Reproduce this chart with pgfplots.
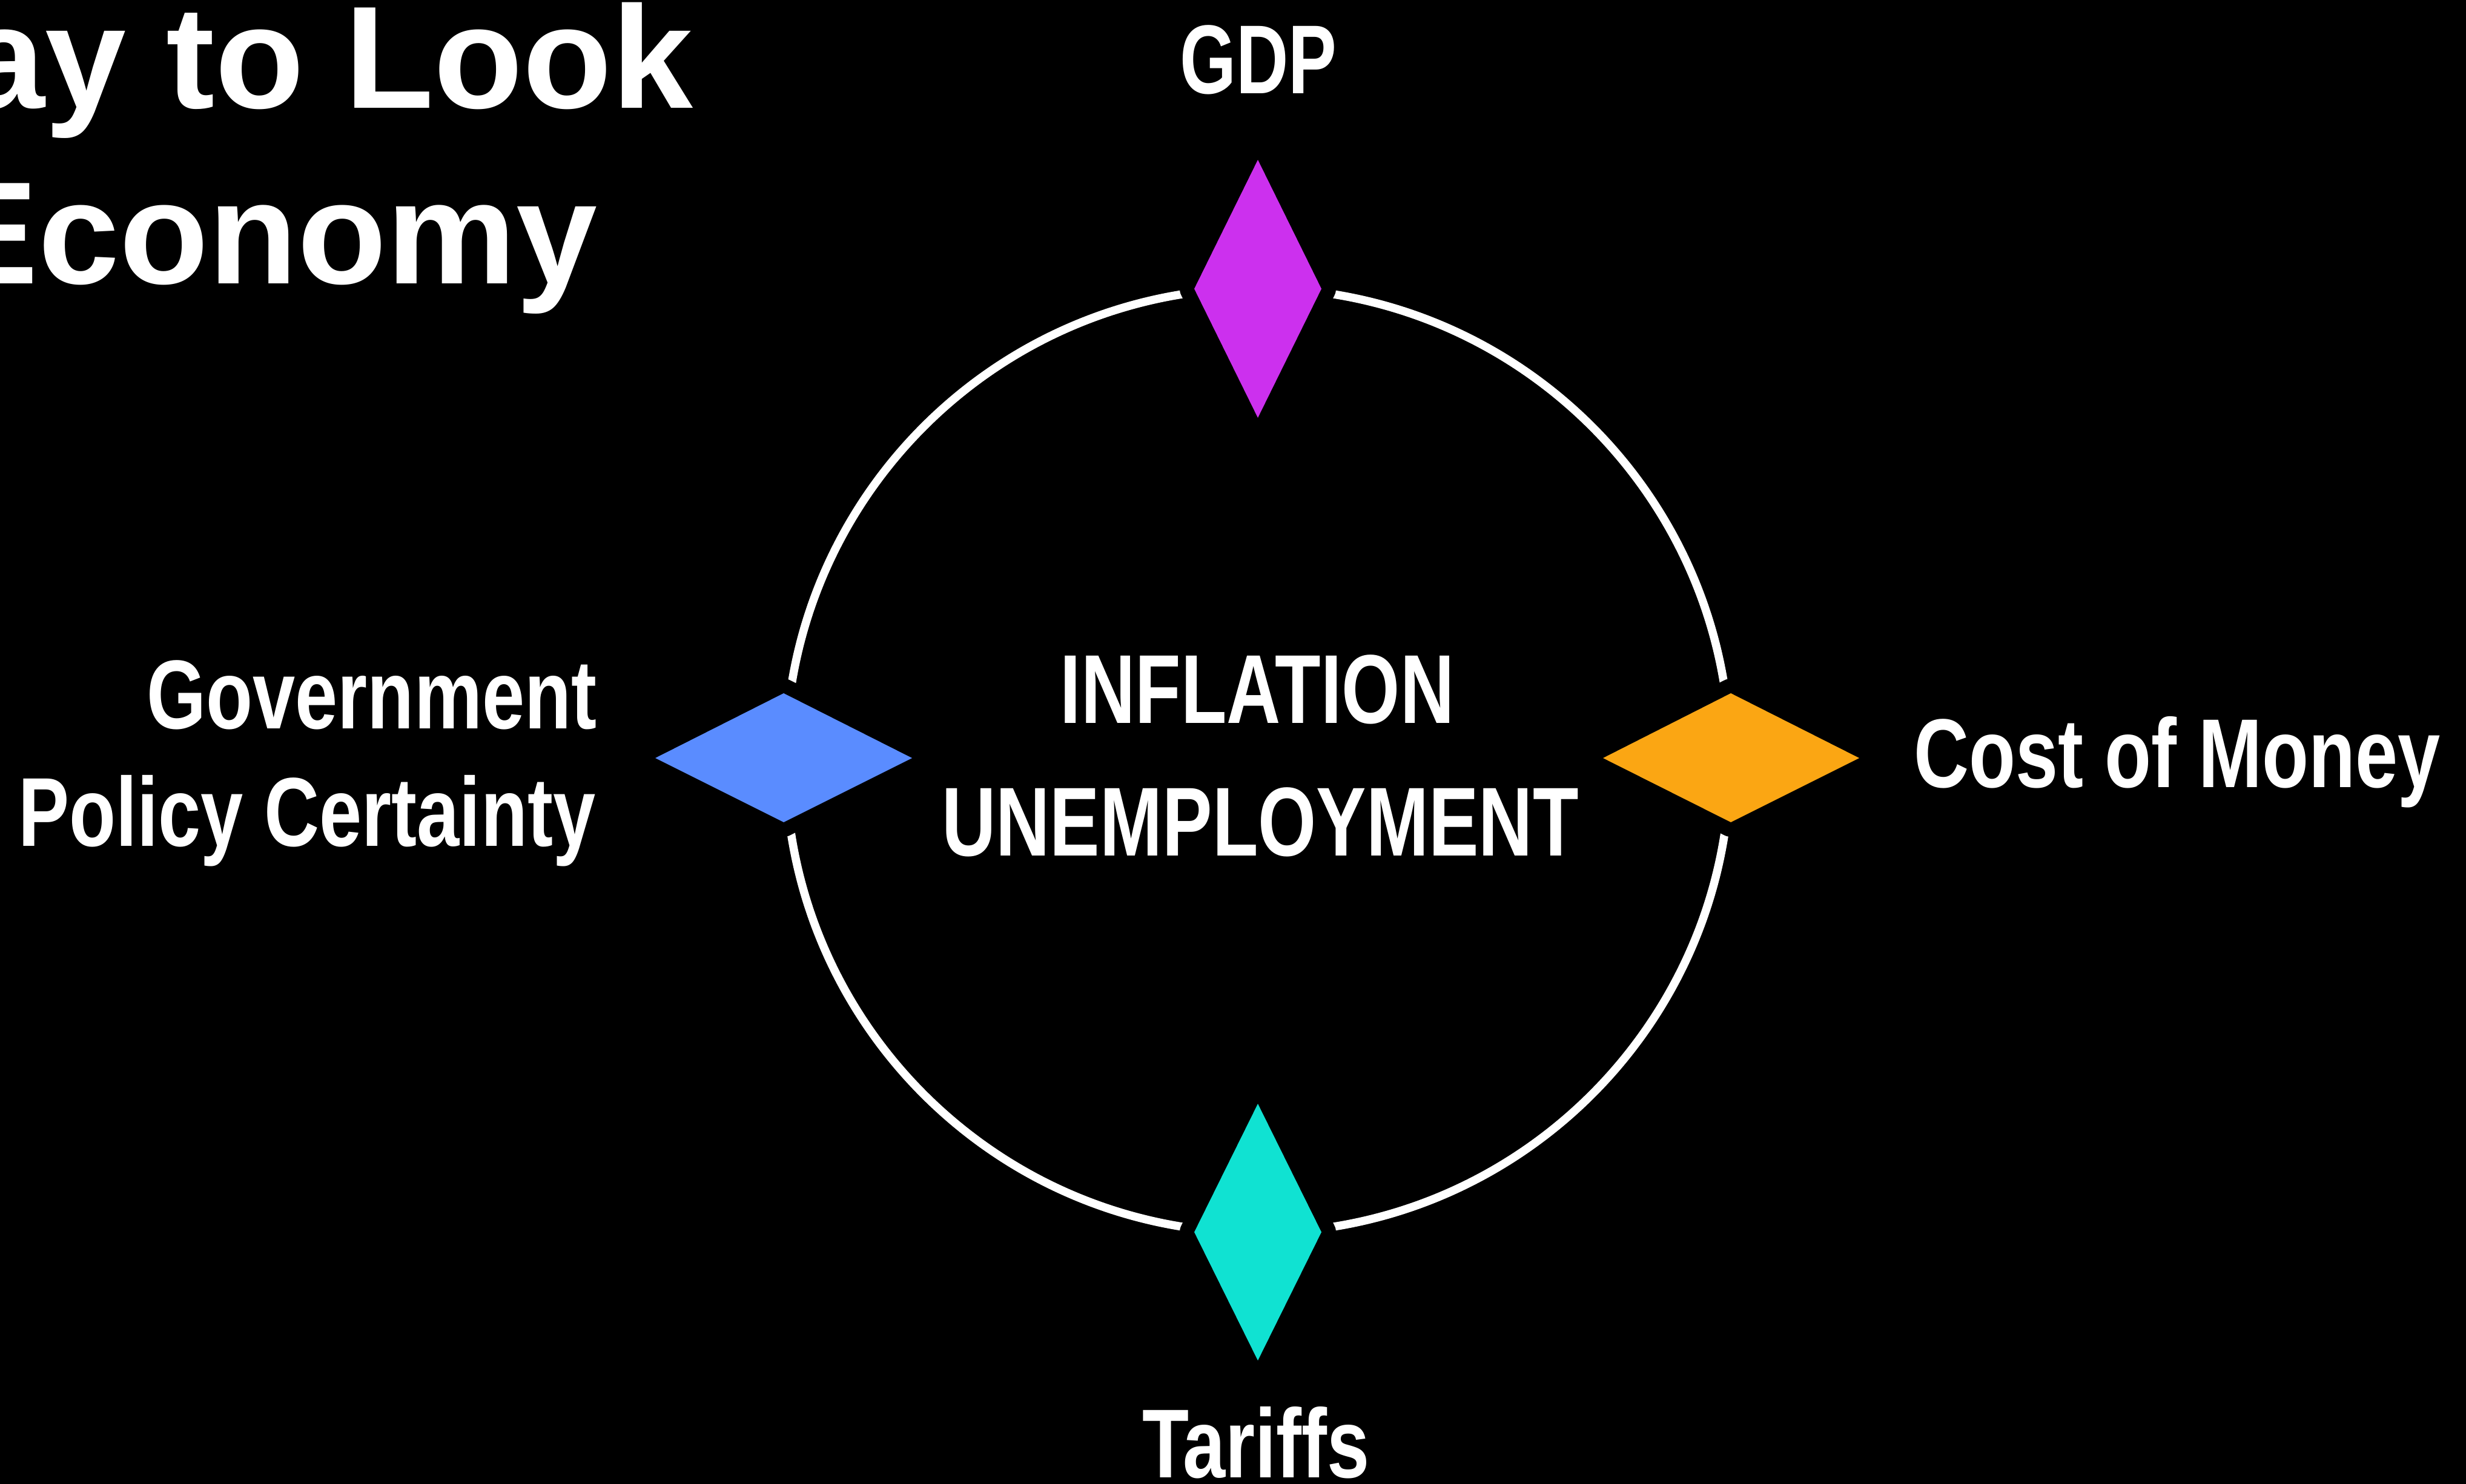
\documentclass[border=0pt]{standalone}
\usepackage{pgfplots}
\pgfplotsset{compat=1.18}
\usepackage{fontspec}
\setmainfont{Liberation Sans}
\newfontfamily\condfont[FakeStretch=0.78]{Liberation Sans}
\newfontfamily\capfont[FakeStretch=0.765]{Liberation Sans}
\newfontfamily\gdpfont[FakeStretch=0.74]{Liberation Sans}
\definecolor{cPurple}{RGB}{204,48,238}
\definecolor{cBlue}{RGB}{90,140,255}
\definecolor{cOrange}{RGB}{251,166,19}
\definecolor{cCyan}{RGB}{16,226,210}
\begin{document}
\begin{tikzpicture}
\begin{axis}[at={(0,0)},anchor=south west,
  width=40.72cm,height=24.51cm,scale only axis,
  xmin=0,xmax=4072,ymin=0,ymax=2451,y dir=reverse,
  hide axis,clip=false]
% background
\addplot[fill=black,draw=none] coordinates {(0,0) (4072,0) (4072,2451) (0,2451) (0,0)};
% ring
\draw[white,line width=0.135cm] (axis cs:2077,1256) circle[radius=7.8cm];
% top diamond (GDP)
\addplot[fill=black,draw=black,line width=0.48cm,line join=round] coordinates {(2077,264) (2182,477) (2077,690) (1972,477) (2077,264)};
\addplot[fill=cPurple,draw=none] coordinates {(2077,264) (2182,477) (2077,690) (1972,477) (2077,264)};
% left diamond (Government Policy Certainty)
\addplot[fill=black,draw=black,line width=0.48cm,line join=round] coordinates {(1082,1252) (1294,1145) (1506,1252) (1294,1358) (1082,1252)};
\addplot[fill=cBlue,draw=none] coordinates {(1082,1252) (1294,1145) (1506,1252) (1294,1358) (1082,1252)};
% right diamond (Cost of Money)
\addplot[fill=black,draw=black,line width=0.48cm,line join=round] coordinates {(2647,1252) (2858,1145) (3070,1252) (2858,1358) (2647,1252)};
\addplot[fill=cOrange,draw=none] coordinates {(2647,1252) (2858,1145) (3070,1252) (2858,1358) (2647,1252)};
% bottom diamond (Tariffs)
\addplot[fill=black,draw=black,line width=0.48cm,line join=round] coordinates {(2077,1823) (2182,2035) (2077,2247) (1972,2035) (2077,1823)};
\addplot[fill=cCyan,draw=none] coordinates {(2077,1823) (2182,2035) (2077,2247) (1972,2035) (2077,1823)};
% labels
\tikzset{lbl/.style={text=white,inner sep=0pt,font=\condfont\bfseries\fontsize{46}{50}\selectfont},
         capl/.style={text=white,inner sep=0pt,font=\capfont\bfseries\fontsize{46}{50}\selectfont},
         gdpl/.style={text=white,inner sep=0pt,font=\gdpfont\bfseries\fontsize{46}{50}\selectfont}}
\node[gdpl,anchor=base] at (axis cs:2078,155) {GDP};
\node[lbl,anchor=base east] at (axis cs:986,1203) {Government};
\node[lbl,anchor=base east] at (axis cs:984,1397) {Policy Certainty};
\node[lbl,anchor=base west] at (axis cs:3160,1300) {Cost of Money};
\node[capl,anchor=base] at (axis cs:2076,1194) {INFLATION};
\node[capl,anchor=base] at (axis cs:2081,1413) {UNEMPLOYMENT};
\node[lbl,anchor=base] at (axis cs:2074,2440) {Tariffs};
% title (partly cut off at the left edge)
\tikzset{ttl/.style={text=white,inner sep=0pt,font=\bfseries\fontsize{68.5}{72}\selectfont}}
\node[ttl,anchor=base east] at (axis cs:1145,179) {ay to Look};
\node[ttl,anchor=base east] at (axis cs:987,468) {Economy};
\end{axis}
\pgfresetboundingbox
\path[use as bounding box] (0,0) rectangle (40.72cm,24.51cm);
\end{tikzpicture}
\end{document}
